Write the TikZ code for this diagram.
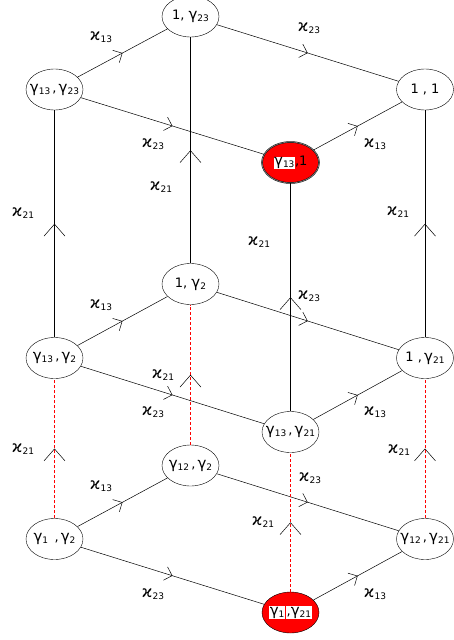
\documentclass[tikz,border=0pt]{standalone}
\usepackage{fontspec}
\setmainfont{DejaVu Sans}
\usetikzlibrary{shapes.geometric,arrows.meta,decorations.markings}
\newcommand{\sbs}[1]{\raisebox{-0.3ex}{\fontsize{9}{9}\selectfont #1}}
\newcommand{\gm}[1]{{\fontsize{15}{15}\selectfont γ}\sbs{#1}}
\newcommand{\kp}[1]{{\fontsize{16}{16}\selectfont ϰ}\sbs{#1}}
\newcommand{\wb}[1]{{\setlength{\fboxsep}{0.6pt}\colorbox{white}{#1}}}
\newcommand{\nt}[1]{\makebox[36pt][c]{#1}}
\tikzset{
  state/.style={ellipse, draw, minimum width=57pt, minimum height=41pt, inner sep=0pt,
    font=\fontsize{13}{15}\selectfont},
  lbl/.style={inner sep=0pt},
  dmid/.style={postaction={decorate}, decoration={markings,
    mark=at position 0.5 with {\arrow[black]{Straight Barb[length=7pt,width=14pt]}}}},
  vmid/.style={postaction={decorate}, decoration={markings,
    mark=at position 0.5 with {\arrow[black,solid]{Straight Barb[length=12pt,width=21pt]}}}},
  reddash/.style={red, densely dashed, line width=0.5pt},
  edge/.style={black, line width=0.5pt}
}
\begin{document}
\begin{tikzpicture}[x=1pt,y=-1pt]
\useasboundingbox (0,0) rectangle (453,640);
% nodes
\node[state] (A) at (190.5,16.5) {\nt{1, \gm{23}}};
\node[state] (B) at (54.5,89.5) {\nt{\gm{13}\,,\,\gm{23}}};
\node[state] (C) at (425,89.5) {\nt{1 , 1}};
\node[state, fill=red, double=gray, double distance=0.7pt] (D) at (290.5,162.5) {\nt{\wb{\gm{13}},1}};
\node[state] (E) at (190.5,284) {\nt{1, \gm{2}}};
\node[state] (F) at (54.5,358) {\nt{\gm{13}\,,\,\gm{2}}};
\node[state] (G) at (425,358) {\nt{1 ,\,\gm{21}}};
\node[state] (H) at (290.5,432) {\nt{\gm{13}\,,\,\gm{21}}};
\node[state] (I) at (190.5,465.5) {\nt{\gm{12}\,,\,\gm{2}}};
\node[state] (J) at (54.5,539) {\nt{\gm{1}\ \,,\,\gm{2}}};
\node[state] (K) at (425,539) {\nt{\gm{12}\,,\,\gm{21}}};
\node[state, fill=red] (L) at (290.5,612.5) {\nt{\wb{\gm{1}}\hspace{1pt}\wb{,\gm{21}}}};
% top face
\draw[edge,dmid] (B) -- (A);
\draw[edge,dmid] (A) -- (C);
\draw[edge,dmid] (B) -- (D);
\draw[edge,dmid] (D) -- (C);
% middle face
\draw[edge,dmid] (F) -- (E);
\draw[edge,dmid] (E) -- (G);
\draw[edge,dmid] (F) -- (H);
\draw[edge,dmid] (H) -- (G);
% bottom face
\draw[edge,dmid] (J) -- (I);
\draw[edge,dmid] (I) -- (K);
\draw[edge,dmid] (J) -- (L);
\draw[edge,dmid] (L) -- (K);
% verticals upper
\draw[edge,vmid] (F) -- (B);
\draw[edge,vmid] (E) -- (A);
\draw[edge,vmid] (H) -- (D);
\draw[edge,vmid] (G) -- (C);
% verticals lower (red dashed)
\draw[reddash,vmid] (J) -- (F);
\draw[reddash,vmid] (I) -- (E);
\draw[reddash,vmid] (L) -- (H);
\draw[reddash,vmid] (K) -- (G);
% labels
\node[lbl] (l1) at (101,37) {\kp{13}};
\node[lbl] (l2) at (309,28) {\kp{23}};
\node[lbl] (l3) at (153,144) {\kp{23}};
\node[lbl] (l4) at (375,144) {\kp{13}};
\node[lbl] (l5) at (161,187) {\kp{21}};
\node[lbl] (l6) at (23,213) {\kp{21}};
\node[lbl] (l7) at (259,242) {\kp{21}};
\node[lbl] (l8) at (398,212) {\kp{21}};
\node[lbl] (l9) at (101,305) {\kp{13}};
\node[lbl] (l10) at (309,296) {\kp{23}};
\node[lbl] (l11) at (153,412) {\kp{23}};
\node[lbl] (l12) at (375,412) {\kp{13}};
\node[lbl] (l13) at (163,375) {\kp{21}};
\node[lbl] (l14) at (23,449) {\kp{21}};
\node[lbl] (l15) at (399,450) {\kp{21}};
\node[lbl] (l16) at (263,522) {\kp{21}};
\node[lbl] (l17) at (101,486) {\kp{13}};
\node[lbl] (l18) at (310,478) {\kp{23}};
\node[lbl] (l19) at (153,594) {\kp{23}};
\node[lbl] (l20) at (375,594) {\kp{13}};
\end{tikzpicture}
\end{document}
